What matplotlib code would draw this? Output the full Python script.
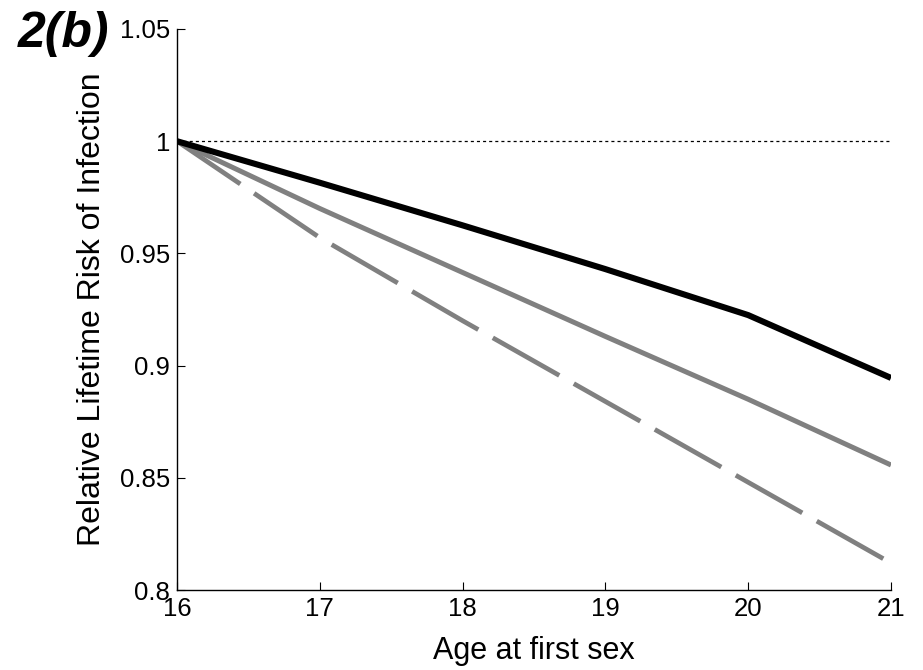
import numpy as np
import matplotlib
matplotlib.use("Agg")
import matplotlib.pyplot as plt

# =========================
# Data
# =========================
age = [16, 17, 18, 19, 20, 21]
risk_black = [1.0, 0.9815, 0.9625, 0.9430, 0.9225, 0.8945]
risk_gray = [1.0, 0.9700, 0.9415, 0.9130, 0.8850, 0.8557]
risk_dashed = [1.0, 0.9570, 0.9200, 0.8840, 0.8480, 0.8120]

xticks = [16, 17, 18, 19, 20, 21]
yticks = [0.8, 0.85, 0.9, 0.95, 1.0, 1.05]
ytick_labels = ["0.8", "0.85", "0.9", "0.95", "1", "1.05"]

plt.rcParams["font.family"] = ["Liberation Sans", "DejaVu Sans"]
plt.rcParams["lines.scale_dashes"] = False

fig = plt.figure(figsize=(9.23, 6.70), dpi=100)
ax = fig.add_axes([177 / 923, 1 - 590 / 670, (891 - 177) / 923, (590 - 29) / 670])

# reference line at 1
ax.plot([16, 21], [1, 1], color="black", lw=0.9, linestyle=(0, (2.2, 2.2)))

ax.plot(age, risk_dashed, color="#808080", lw=3.4, linestyle=(0, (55, 12)),
        solid_capstyle="butt", dash_capstyle="butt")
ax.plot(age, risk_gray, color="#808080", lw=3.6, solid_capstyle="butt")
ax.plot(age, risk_black, color="black", lw=4.4, solid_capstyle="butt")

ax.set_xlim(16, 21)
ax.set_ylim(0.8, 1.05)
ax.set_xticks(xticks)
ax.set_yticks(yticks)
ax.set_yticklabels(ytick_labels)
ax.tick_params(direction="in", length=6, width=0.8, labelsize=18.5, pad=5)
ax.spines["top"].set_visible(False)
ax.spines["right"].set_visible(False)
for s in ["left", "bottom"]:
    ax.spines[s].set_linewidth(1.0)

ax.set_xlabel("Age at first sex", fontsize=22, labelpad=11)
ax.set_ylabel("Relative Lifetime Risk of Infection", fontsize=23, labelpad=9)

fig.text(18 / 923, 1 - 47 / 670, "2(b)", fontsize=36, fontweight="bold",
         fontstyle="italic", ha="left", va="baseline")

fig.savefig("out.png", dpi=100)
